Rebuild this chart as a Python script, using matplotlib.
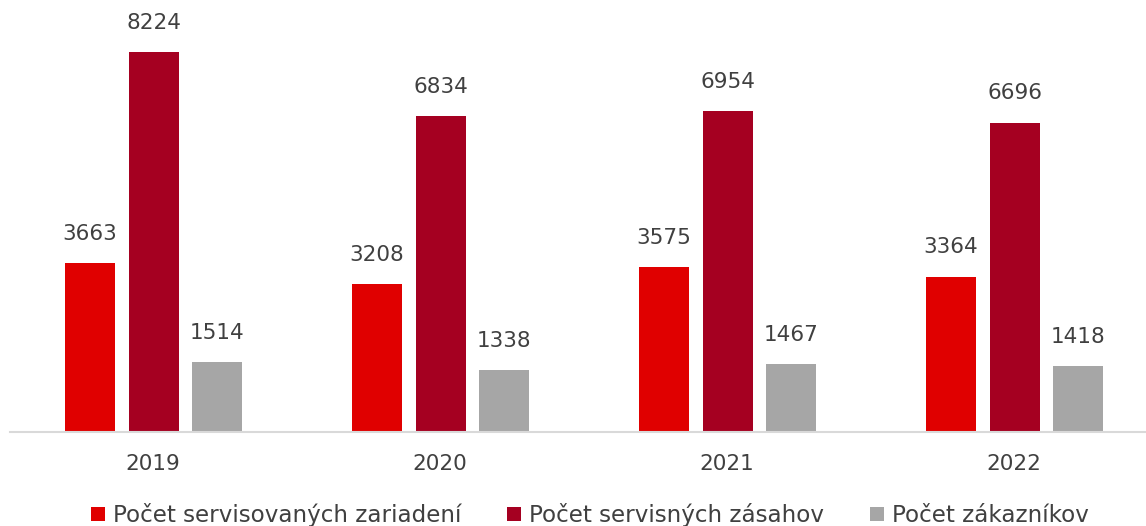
import matplotlib
matplotlib.use("Agg")
import matplotlib.pyplot as plt
import numpy as np

years = ["2019", "2020", "2021", "2022"]
series_names = ["Počet servisovaných zariadení", "Počet servisných zásahov", "Počet zákazníkov"]
zariadenia = [3663, 3208, 3575, 3364]
zasahy = [8224, 6834, 6954, 6696]
zakaznici = [1514, 1338, 1467, 1418]
colors = ["#E00000", "#A50021", "#A6A6A6"]

plt.rcParams['font.family'] = ['DejaVu Sans']
txt = "#404040"

fig = plt.figure(figsize=(11.46, 5.26), dpi=100)
ax = fig.add_axes([9.5/1146, 94/526, 1148/1146, 432/526])

x = np.arange(len(years))
w = 50/287
offs = [-63/287, 1/287, 64/287]
for vals, off, c, name in zip([zariadenia, zasahy, zakaznici], offs, colors, series_names):
    bars = ax.bar(x + off, vals, width=w, color=c, label=name)
    for b, v in zip(bars, vals):
        ax.annotate(str(v), (b.get_x() + b.get_width()/2, v), xytext=(0, 21),
                    textcoords="offset points", ha="center", va="center",
                    fontsize=15.5, color=txt)

ax.set_xlim(-0.5, 3.5)
ax.set_ylim(0, 9350)
for s in ["top", "right", "left"]:
    ax.spines[s].set_visible(False)
ax.spines["bottom"].set_color("#D9D9D9")
ax.spines["bottom"].set_linewidth(1.5)
ax.set_yticks([])
ax.set_xticks(x)
ax.set_xticklabels(years, fontsize=15.5, color=txt)
ax.tick_params(axis="x", length=0, pad=16)

leg = fig.legend(loc="center", bbox_to_anchor=(590/1146, 1 - 515/526), ncol=3, frameon=False,
                 fontsize=16.6, handlelength=0.6, handleheight=0.6, handletextpad=0.35,
                 columnspacing=2.0, labelcolor=txt)

fig.savefig("out.png", dpi=100)
